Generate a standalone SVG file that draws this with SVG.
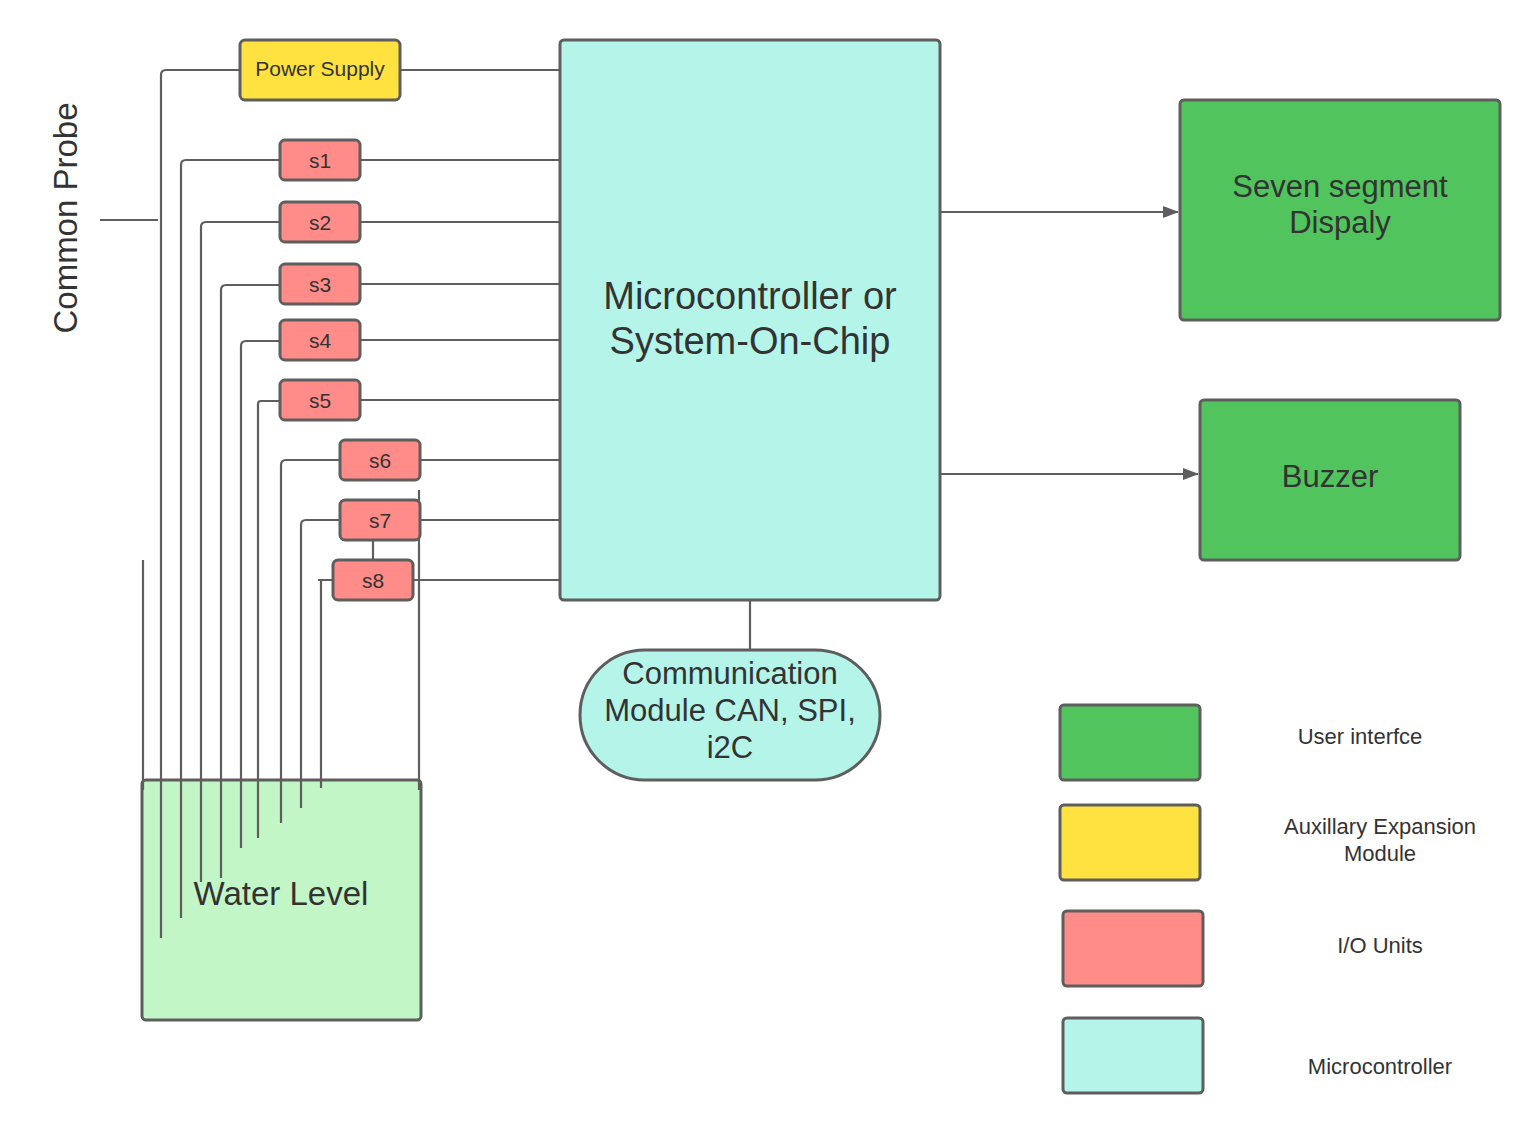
<svg xmlns="http://www.w3.org/2000/svg" width="1540" height="1140" viewBox="0 0 1540 1140">
<defs>
<style>
.b{stroke:#5e5e5e;stroke-width:3}
.w{fill:none;stroke:#5e5e5e;stroke-width:2.2}
.t{font-family:"Liberation Sans",Arial,sans-serif;fill:#333;text-anchor:middle}
.yel{fill:#ffe13f}.pk{fill:#ff8c89}.cy{fill:#b4f4e9}.gr{fill:#51c45e}.lg{fill:#c2f6c7}
</style>
<marker id="ar" markerWidth="16" markerHeight="12" refX="15" refY="6" orient="auto" markerUnits="userSpaceOnUse"><path d="M0,0 L16,6 L0,12 Z" fill="#5e5e5e"/></marker>
</defs>
<rect width="1540" height="1140" fill="#fff"/>
<g id="water-level"><rect class="b lg" x="142" y="780" width="279" height="240" rx="4"/><text class="t" x="281" y="905" font-size="33">Water Level</text></g>
<g id="connectors">
<path class="w" d="M100,220 H158"/>
<path class="w" d="M240,70 H166 Q161,70 161,75 V938"/>
<path class="w" d="M280,160 H186 Q181,160 181,165 V918"/>
<path class="w" d="M280,222 H206 Q201,222 201,227 V882"/>
<path class="w" d="M280,285 H226 Q221,285 221,290 V878"/>
<path class="w" d="M280,341 H246 Q241,341 241,346 V848"/>
<path class="w" d="M280,401 H261 Q258,401 258,404 V838"/>
<path class="w" d="M340,460 H286 Q281,460 281,465 V823"/>
<path class="w" d="M340,520 H306 Q301,520 301,525 V808"/>
<path class="w" d="M333,580 H318 M321,580 V788"/>
<path class="w" d="M143,560 V790"/>
<path class="w" d="M419,490 V790"/>
<path class="w" d="M373,540 V560"/>
<path class="w" d="M400,70 H560 M360,160 H560 M360,222 H560 M360,284 H560 M360,340 H560 M360,400 H560 M420,460 H560 M420,520 H560 M413,580 H560"/>
<path class="w" d="M750,600 V650"/>
<path class="w" d="M940,212 H1178" marker-end="url(#ar)"/>
<path class="w" d="M940,474 H1198" marker-end="url(#ar)"/>
</g>
<g id="power-supply"><rect class="b yel" x="240" y="40" width="160" height="60" rx="5"/><text class="t" x="320" y="76" font-size="21">Power Supply</text></g>
<g id="s1"><rect class="b pk" x="280" y="140" width="80" height="40" rx="5"/><text class="t" x="320" y="168" font-size="21">s1</text></g>
<g id="s2"><rect class="b pk" x="280" y="202" width="80" height="40" rx="5"/><text class="t" x="320" y="230" font-size="21">s2</text></g>
<g id="s3"><rect class="b pk" x="280" y="264" width="80" height="40" rx="5"/><text class="t" x="320" y="292" font-size="21">s3</text></g>
<g id="s4"><rect class="b pk" x="280" y="320" width="80" height="40" rx="5"/><text class="t" x="320" y="348" font-size="21">s4</text></g>
<g id="s5"><rect class="b pk" x="280" y="380" width="80" height="40" rx="5"/><text class="t" x="320" y="408" font-size="21">s5</text></g>
<g id="s6"><rect class="b pk" x="340" y="440" width="80" height="40" rx="5"/><text class="t" x="380" y="468" font-size="21">s6</text></g>
<g id="s7"><rect class="b pk" x="340" y="500" width="80" height="40" rx="5"/><text class="t" x="380" y="528" font-size="21">s7</text></g>
<g id="s8"><rect class="b pk" x="333" y="560" width="80" height="40" rx="5"/><text class="t" x="373" y="588" font-size="21">s8</text></g>
<g id="common-probe"><text class="t" transform="translate(77,218) rotate(-90)" font-size="33">Common Probe</text></g>
<g id="mcu"><rect class="b cy" x="560" y="40" width="380" height="560" rx="4"/><text class="t" x="750" y="309" font-size="38">Microcontroller or</text><text class="t" x="750" y="354" font-size="38">System-On-Chip</text></g>
<g id="comm"><rect class="b cy" x="580" y="650" width="300" height="130" rx="65"/><text class="t" x="730" y="684" font-size="31">Communication</text><text class="t" x="730" y="721" font-size="31">Module CAN, SPI,</text><text class="t" x="730" y="758" font-size="31">i2C</text></g>
<g id="seven-seg"><rect class="b gr" x="1180" y="100" width="320" height="220" rx="4"/><text class="t" x="1340" y="197" font-size="31">Seven segment</text><text class="t" x="1340" y="233" font-size="31">Dispaly</text></g>
<g id="buzzer"><rect class="b gr" x="1200" y="400" width="260" height="160" rx="4"/><text class="t" x="1330" y="487" font-size="31">Buzzer</text></g>
<g id="legend">
<rect class="b gr" x="1060" y="705" width="140" height="75" rx="4"/><text class="t" x="1360" y="744" font-size="22">User interfce</text>
<rect class="b yel" x="1060" y="805" width="140" height="75" rx="4"/><text class="t" x="1380" y="834" font-size="22">Auxillary Expansion</text><text class="t" x="1380" y="861" font-size="22">Module</text>
<rect class="b pk" x="1063" y="911" width="140" height="75" rx="4"/><text class="t" x="1380" y="953" font-size="22">I/O Units</text>
<rect class="b cy" x="1063" y="1018" width="140" height="75" rx="4"/><text class="t" x="1380" y="1074" font-size="22">Microcontroller</text>
</g>
</svg>
